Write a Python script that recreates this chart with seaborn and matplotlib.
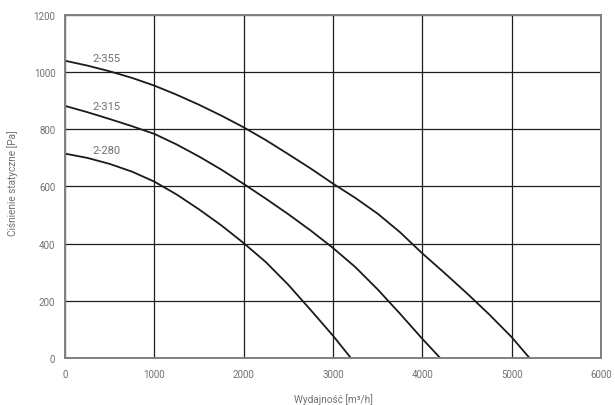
import matplotlib
matplotlib.use("Agg")
import matplotlib.pyplot as plt
import seaborn as sns
import pandas as pd

# Fan characteristic curves: airflow [m3/h] vs static pressure [Pa]
flow_355 = [0, 250, 500, 750, 1000, 1250, 1500, 1750, 2000, 2250, 2500, 2750,
            3000, 3250, 3500, 3750, 4000, 4250, 4500, 4750, 5000, 5200]
pres_355 = [1040, 1023, 1003, 980, 953, 921, 886, 848, 807, 762, 713, 663,
            610, 560, 505, 440, 366, 297, 226, 152, 73, 0]

flow_315 = [0, 250, 500, 750, 1000, 1250, 1500, 1750, 2000, 2250, 2500, 2750,
            3000, 3250, 3500, 3750, 4000, 4200]
pres_315 = [882, 860, 836, 811, 784, 747, 705, 659, 609, 557, 503, 446,
            385, 318, 240, 155, 67, 0]

flow_280 = [0, 250, 500, 750, 1000, 1250, 1500, 1750, 2000, 2250, 2500, 2750,
            3000, 3200]
pres_280 = [715, 700, 679, 652, 617, 572, 520, 464, 402, 335, 256, 168,
            78, 0]

series = ["2-355", "2-315", "2-280"]
label_pos = [(465, 1050), (465, 882), (465, 728)]

x_ticks = [0, 1000, 2000, 3000, 4000, 5000, 6000]
y_ticks = [0, 200, 400, 600, 800, 1000, 1200]

frames = []
for name, fx, fy in zip(series, [flow_355, flow_315, flow_280],
                        [pres_355, pres_315, pres_280]):
    frames.append(pd.DataFrame({"flow": fx, "pressure": fy, "model": name}))
df = pd.concat(frames, ignore_index=True)

sns.set_style("white")
plt.rcParams["font.family"] = ["Roboto", "DejaVu Sans"]

TEXT = "#707070"

fig = plt.figure(figsize=(6.15, 4.06), dpi=100)
ax = fig.add_axes([0.1057, 0.1158, 0.8715, 0.8448])

sns.lineplot(data=df, x="flow", y="pressure", units="model", estimator=None,
             sort=False, color="#1a1a1a", linewidth=1.3, ax=ax, legend=False)

ax.set_xlim(0, 6000)
ax.set_ylim(0, 1200)
ax.set_xticks(x_ticks)
ax.set_yticks(y_ticks)
ax.set_xticklabels([str(v) for v in x_ticks])
ax.set_yticklabels([str(v) for v in y_ticks])
ax.grid(True, color="#1e1e1e", linewidth=0.9)
ax.set_axisbelow(True)
for s in ax.spines.values():
    s.set_color("#808080")
    s.set_linewidth(1.4)
ax.tick_params(axis="both", length=0, labelsize=7, colors=TEXT)
ax.tick_params(axis="x", pad=8)
ax.tick_params(axis="y", pad=7)
ax.set_xlabel("")
ax.set_ylabel("")

fig.text(333 / 615, 1 - 400 / 406, "Wydajność [m³/h]", ha="center", va="center",
         fontsize=7.2, color=TEXT)
fig.text(13 / 615, 1 - 183 / 406, "Ciśnienie statyczne [Pa]", ha="center",
         va="center", rotation=90, fontsize=7.2, color=TEXT)

for name, (lx, ly) in zip(series, label_pos):
    ax.text(lx, ly, name, ha="center", va="center", fontsize=8, color=TEXT)

fig.savefig("out.png", dpi=100)
